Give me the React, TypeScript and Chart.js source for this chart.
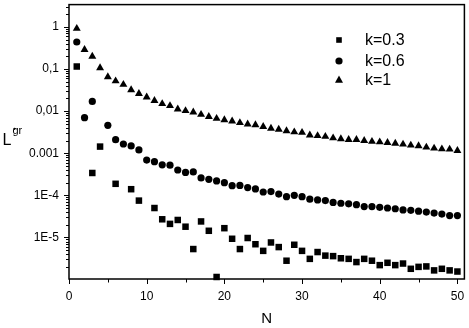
import React, { useEffect, useRef } from 'react';
import { Chart, registerables } from 'chart.js';

Chart.register(...registerables);

const N = [1, 2, 3, 4, 5, 6, 7, 8, 9, 10, 11, 12, 13, 14, 15, 16, 17, 18, 19, 20, 21, 22, 23, 24, 25, 26, 27, 28, 29, 30, 31, 32, 33, 34, 35, 36, 37, 38, 39, 40, 41, 42, 43, 44, 45, 46, 47, 48, 49, 50];

const k03: (number | null)[] = [0.115, null, 0.00034, 0.00144, null, 0.000188, null, 0.00014, 0.000075, null, 0.00005, 0.000027, 0.000021, 0.000026, 0.000018, 5.3e-6, 0.000024, 0.0000144, 1.15e-6, 0.0000166, 9.3e-6, 5.3e-6, 9.7e-6, 6.9e-6, 4.8e-6, 7.6e-6, 5.9e-6, 2.8e-6, 6.7e-6, 4.8e-6, 3.1e-6, 4.5e-6, 3.7e-6, 3.6e-6, 3.2e-6, 3.1e-6, 2.6e-6, 3.1e-6, 2.8e-6, 2.2e-6, 2.5e-6, 2.2e-6, 2.4e-6, 1.8e-6, 2.0e-6, 2.05e-6, 1.65e-6, 1.8e-6, 1.65e-6, 1.55e-6];

const k06: (number | null)[] = [0.44, 0.007, 0.017, null, 0.0046, 0.0021, 0.00166, 0.00149, 0.0012, 0.00069, 0.00063, 0.00053, 0.00052, 0.0004, 0.00035, 0.00036, 0.00026, 0.00024, 0.00022, 0.0002, 0.00017, 0.000172, 0.000153, 0.000142, 0.00012, 0.000123, 0.000107, 0.000093, 0.0001, 0.000093, 0.000081, 0.000078, 0.000075, 0.000068, 0.000065, 0.000063, 0.00006, 0.000054, 0.000054, 0.000052, 0.00005, 0.000048, 0.000045, 0.000044, 0.000042, 0.00004, 0.000038, 0.000036, 0.000033, 0.000033];

const k1: (number | null)[] = [0.92, 0.29, 0.2, 0.107, 0.065, 0.052, 0.043, 0.032, 0.026, 0.0215, 0.0177, 0.015, 0.0134, 0.0112, 0.0102, 0.0095, 0.0083, 0.0074, 0.0067, 0.0062, 0.0058, 0.0053, 0.0049, 0.0047, 0.0043, 0.0039, 0.0037, 0.0034, 0.0032, 0.0031, 0.0027, 0.0026, 0.0025, 0.0023, 0.0022, 0.0021, 0.0021, 0.002, 0.0019, 0.00185, 0.00178, 0.00172, 0.00163, 0.00155, 0.00149, 0.00139, 0.00131, 0.00126, 0.00124, 0.00115];

const seriesLabels = ['k=0.3', 'k=0.6', 'k=1'];
const yTickValues = [1e-5, 1e-4, 1e-3, 1e-2, 0.1, 1];
const yTickLabels = ['1E-5', '1E-4', '0.001', '0,01', '0,1', '1'];
const xMajorTicks = [0, 10, 20, 30, 40, 50];
const xMinorTicks = [5, 15, 25, 35, 45];
const yDecades = [1e-6, 1e-5, 1e-4, 1e-3, 1e-2, 0.1, 1];

const FONT = "'Liberation Sans', Arial, Helvetica, sans-serif";

function toPoints(vals: (number | null)[]) {
  const out: { x: number; y: number }[] = [];
  vals.forEach((v, i) => {
    if (v !== null) out.push({ x: N[i], y: v });
  });
  return out;
}

const zeroPad = (s: any) => {
  s.paddingTop = 0;
  s.paddingBottom = 0;
  s.paddingLeft = 0;
  s.paddingRight = 0;
};

const decorPlugin = {
  id: 'decor',
  beforeDatasetsDraw(chart: any) {
    const { ctx, chartArea: a, scales } = chart;
    const ys = scales.y;
    const xs = scales.x;
    ctx.save();
    ctx.strokeStyle = '#000';
    ctx.lineWidth = 1;
    for (const d of yDecades) {
      for (let m = 1; m <= 9; m++) {
        const v = d * m;
        if (v < ys.min || v > ys.max) continue;
        const p = Math.round(ys.getPixelForValue(v)) + 0.5;
        const len = m === 1 ? 5 : 3;
        ctx.beginPath();
        ctx.moveTo(a.left - len, p);
        ctx.lineTo(a.left, p);
        ctx.stroke();
      }
    }
    const drawX = (v: number, len: number) => {
      const p = Math.round(xs.getPixelForValue(v)) + 0.5;
      ctx.beginPath();
      ctx.moveTo(p, a.bottom);
      ctx.lineTo(p, a.bottom + len);
      ctx.stroke();
    };
    xMajorTicks.forEach((v) => drawX(v, 5));
    xMinorTicks.forEach((v) => drawX(v, 3.5));
    ctx.lineWidth = 1.5;
    ctx.strokeRect(a.left, a.top, a.right - a.left, a.bottom - a.top);
    ctx.restore();
  },
  afterDraw(chart: any) {
    const { ctx, chartArea: a } = chart;
    ctx.save();
    ctx.fillStyle = '#000';
    ctx.font = `15px ${FONT}`;
    ctx.textAlign = 'center';
    ctx.textBaseline = 'middle';
    ctx.fillText('N', (a.left + a.right) / 2, 319);
    ctx.textAlign = 'left';
    ctx.textBaseline = 'alphabetic';
    ctx.font = `16px ${FONT}`;
    ctx.fillText('L', 2.5, 144.5);
    ctx.beginPath();
    ctx.arc(14.5, 128.8, 1.1, 0, Math.PI * 2);
    ctx.fill();
    ctx.font = `11px ${FONT}`;
    ctx.fillText('gr', 12.5, 134);
    const lx = 339;
    const rows = [40, 61, 80];
    ctx.font = `16px ${FONT}`;
    ctx.textBaseline = 'middle';
    rows.forEach((ry, i) => {
      ctx.beginPath();
      if (i === 0) {
        ctx.rect(lx - 2.8, ry - 2.8, 5.6, 5.6);
      } else if (i === 1) {
        ctx.arc(lx, ry, 3.6, 0, Math.PI * 2);
      } else {
        ctx.moveTo(lx, ry - 4.5);
        ctx.lineTo(lx + 4, ry + 2.8);
        ctx.lineTo(lx - 4, ry + 2.8);
        ctx.closePath();
      }
      ctx.fill();
      ctx.fillText(seriesLabels[i], 365, ry + 0.5);
    });
    ctx.restore();
  },
};

export default function App() {
  const ref = useRef<HTMLCanvasElement | null>(null);
  useEffect(() => {
    if (!ref.current) return;
    const common = {
      backgroundColor: '#000',
      borderColor: '#000',
      borderWidth: 0,
      showLine: false,
      clip: false as any,
    };
    const chart = new Chart(ref.current, {
      type: 'scatter',
      data: {
        datasets: [
          { label: seriesLabels[0], data: toPoints(k03), pointStyle: 'rect', pointRadius: 4.6, ...common },
          { label: seriesLabels[1], data: toPoints(k06), pointStyle: 'circle', pointRadius: 3.6, ...common },
          { label: seriesLabels[2], data: toPoints(k1), pointStyle: 'triangle', pointRadius: 4.6, ...common },
        ],
      },
      options: {
        responsive: false,
        animation: false,
        events: [],
        layout: { padding: { left: 0, top: 4, right: 3, bottom: 0 } },
        plugins: { legend: { display: false }, tooltip: { enabled: false } },
        scales: {
          x: {
            type: 'linear',
            min: 0,
            max: 50.9,
            grid: { display: false, drawTicks: false },
            border: { display: false },
            afterBuildTicks: (s: any) => {
              s.ticks = xMajorTicks.map((v) => ({ value: v }));
            },
            afterFit: (s: any) => {
              s.height = 49;
              zeroPad(s);
            },
            ticks: {
              padding: 10,
              color: '#000',
              font: { family: FONT, size: 12 },
              maxRotation: 0,
              callback: (v: any) => String(v),
            },
          },
          y: {
            type: 'logarithmic',
            min: 1.03e-6,
            max: 3.4,
            grid: { display: false, drawTicks: false },
            border: { display: false },
            afterBuildTicks: (s: any) => {
              s.ticks = yTickValues.map((v) => ({ value: v }));
            },
            afterFit: (s: any) => {
              s.width = 69;
              zeroPad(s);
            },
            ticks: {
              padding: 10,
              color: '#000',
              font: { family: FONT, size: 12 },
              callback: (v: any) => {
                const i = yTickValues.findIndex((t) => Math.abs(t - v) / t < 1e-6);
                return i >= 0 ? yTickLabels[i] : '';
              },
            },
          },
        },
      },
      plugins: [decorPlugin],
    });
    return () => chart.destroy();
  }, []);
  return (
    <canvas
      ref={ref}
      width={469}
      height={328}
      style={{ position: 'absolute', left: 0, top: 0, width: 469, height: 328, background: '#fff' }}
    />
  );
}
